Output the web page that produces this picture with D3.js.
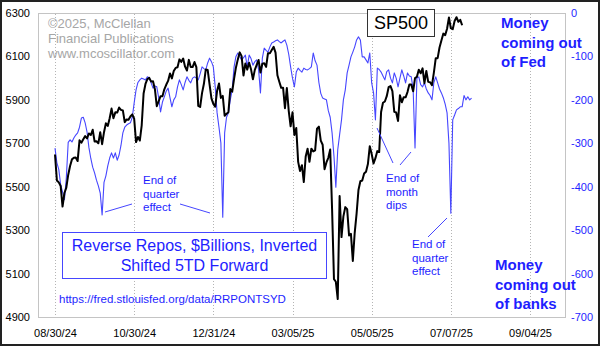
<!DOCTYPE html>
<html>
<head>
<meta charset="utf-8">
<script src="https://cdn.jsdelivr.net/npm/d3@7"></script>
<style>
  html, body { margin: 0; padding: 0; background: #fff; }
  svg { display: block; font-family: "Liberation Sans", Arial, sans-serif; }
</style>
</head>
<body>
<svg id="chart" width="600" height="346"></svg>
<script>
// Trading-day index 0 = 08/30/24. Ticks every 42 trading days.
const tickIndex = [0, 42, 84, 126, 168, 210, 252];
const tickLabels = ["08/30/24", "10/30/24", "12/31/24", "03/05/25", "05/05/25", "07/07/25", "09/04/25"];
const leftTicks = [4900, 5100, 5300, 5500, 5700, 5900, 6100, 6300];
const rightTicks = [-700, -600, -500, -400, -300, -200, -100, 0];

// S&P 500 daily closes, 08/30/24 .. 07/15/25
const sp500 = [
  5648.40, 5528.93, 5520.07, 5503.41, 5408.42, 5471.05, 5495.52, 5554.13, 5595.76, 5626.02,
  5633.09, 5634.58, 5618.26, 5713.64, 5702.55, 5718.57, 5732.93, 5722.26, 5745.37, 5738.17,
  5762.48, 5708.75, 5709.54, 5699.94, 5751.07, 5695.94, 5751.13, 5792.04, 5780.05, 5815.03,
  5859.85, 5815.26, 5842.47, 5841.47, 5864.67, 5853.98, 5851.20, 5797.42, 5809.86, 5808.12,
  5823.52, 5832.92, 5813.67, 5705.45, 5728.80, 5712.69, 5782.76, 5929.04, 5973.10, 5995.54,
  6001.35, 5983.99, 5985.38, 5949.17, 5870.62, 5893.62, 5916.98, 5917.11, 5948.71, 5969.34,
  5987.37, 6021.63, 5998.74, 6032.38, 6047.15, 6049.88, 6086.49, 6075.11, 6090.27, 6052.85,
  6034.91, 6084.19, 6051.25, 6051.09, 6074.08, 6050.61, 5872.16, 5867.08, 5930.85, 5974.07,
  6040.04, 6037.59, 5970.84, 5906.94, 5881.63, 5868.55, 5942.47, 5975.38, 5909.03, 5918.25,
  5827.04, 5836.22, 5842.91, 5949.91, 5937.34, 5996.66, 6049.24, 6086.37, 6118.71, 6101.24,
  6012.28, 6067.70, 6039.31, 6071.17, 6040.53, 5994.57, 6037.88, 6061.48, 6083.57, 6025.99,
  6066.44, 6068.50, 6051.97, 6115.07, 6114.63, 6129.58, 6144.15, 6117.52, 6013.13, 5983.25,
  5955.25, 5956.06, 5861.57, 5954.50, 5849.72, 5778.15, 5842.63, 5738.52, 5770.20, 5614.56,
  5572.07, 5599.30, 5521.52, 5638.94, 5675.12, 5614.66, 5675.29, 5662.89, 5667.56, 5767.57,
  5776.65, 5712.20, 5693.31, 5580.94, 5611.85, 5633.07, 5670.97, 5396.52, 5074.08, 5062.25,
  4982.77, 5456.90, 5268.05, 5363.36, 5405.97, 5396.63, 5275.70, 5282.70, 5158.20, 5287.76,
  5375.86, 5484.77, 5525.21, 5528.75, 5560.83, 5569.06, 5604.14, 5686.67, 5650.38, 5606.91,
  5631.28, 5663.94, 5659.91, 5844.19, 5886.55, 5892.58, 5916.93, 5958.38, 5963.60, 5940.46,
  5844.61, 5842.01, 5802.82, 5921.54, 5888.55, 5912.17, 5911.69, 5935.94, 5970.37, 5970.81,
  5939.30, 6000.36, 6005.88, 6038.81, 6022.24, 6045.26, 5976.97, 6033.11, 5982.72, 5980.87,
  5967.84, 6025.17, 6092.18, 6092.16, 6141.02, 6173.07, 6204.95, 6198.01, 6227.42, 6279.35,
  6229.98, 6225.52, 6263.26, 6280.46, 6259.75, 6268.56, 6243.76
];

// Reverse repos ($B), inverted and shifted 5 trading days forward
const reverseRepos = [
  -311, -345, -360, -395, -412, -430, -380, -298, -292, -297,
  -288, -281, -276, -263, -242, -240, -253, -274, -310, -335,
  -355, -368, -385, -398, -415, -465, -390, -375, -352, -334,
  -322, -334, -322, -339, -327, -305, -276, -263, -258, -255,
  -253, -240, -207, -177, -160, -154, -150, -152, -154, -147,
  -149, -161, -173, -168, -170, -195, -228, -205, -193, -180,
  -173, -195, -216, -200, -193, -170, -154, -165, -177, -160,
  -147, -155, -161, -150, -147, -150, -154, -140, -124, -128,
  -131, -115, -104, -112, -124, -170, -230, -263, -299, -470,
  -276, -240, -230, -200, -177, -124, -100, -92, -100, -108,
  -103, -97, -124, -97, -105, -120, -112, -108, -130, -184,
  -104, -81, -86, -90, -78, -69, -67, -64, -62, -66,
  -69, -65, -62, -74, -95, -124, -150, -170, -136, -127,
  -132, -136, -127, -130, -131, -128, -124, -92, -110, -120,
  -160, -185, -196, -198, -200, -225, -240, -276, -330, -401,
  -315, -280, -246, -200, -177, -138, -120, -101, -90, -78,
  -62, -55, -62, -101, -101, -108, -115, -92, -161, -184,
  -246, -127, -130, -136, -145, -154, -135, -131, -150, -161,
  -138, -150, -170, -150, -131, -145, -161, -138, -145, -147,
  -175, -311, -150, -147, -165, -170, -161, -175, -184, -190,
  -200, -160, -147, -161, -175, -184, -195, -210, -230, -300,
  -461, -246, -235, -223, -220, -216, -216, -190, -200, -193,
  -200, -196
];

const blueText = "#1e1eff";
const blueLine = "#4646ff";

const svg = d3.select("#chart");
const plot = { left: 38, right: 565, top: 13, bottom: 317 };

const x = d3.scaleLinear().domain([0, 252]).range([55, 530]);
const yL = d3.scaleLinear().domain([4900, 6300]).range([plot.bottom, plot.top]);
const yR = d3.scaleLinear().domain([-700, 0]).range([plot.bottom, plot.top]);

// outer frame
svg.append("rect").attr("x", 1).attr("y", 1).attr("width", 598).attr("height", 344)
  .attr("fill", "#fff").attr("stroke", "#222").attr("stroke-width", 2);

// plot frame
svg.append("rect").attr("x", plot.left + 0.5).attr("y", plot.top + 0.5)
  .attr("width", plot.right - plot.left).attr("height", plot.bottom - plot.top)
  .attr("fill", "none").attr("stroke", "#c4c4c4").attr("stroke-width", 1);

// vertical dotted gridlines
svg.append("g").selectAll("line").data(tickIndex).join("line")
  .attr("x1", d => Math.round(x(d)) + 0.5).attr("x2", d => Math.round(x(d)) + 0.5)
  .attr("y1", plot.top + 1).attr("y2", plot.bottom)
  .attr("stroke", "#b4b4b4").attr("stroke-dasharray", "1,2");

// axes
const axisL = svg.append("g").attr("transform", `translate(${plot.left},0)`)
  .call(d3.axisLeft(yL).tickValues(leftTicks).tickFormat(d3.format("d")).tickSize(0).tickPadding(8));
const axisR = svg.append("g").attr("transform", `translate(${plot.right},0)`)
  .call(d3.axisRight(yR).tickValues(rightTicks).tickFormat(d => d === 0 ? "0" : String(d)).tickSize(0).tickPadding(6));
const axisB = svg.append("g").attr("transform", `translate(0,${plot.bottom})`)
  .call(d3.axisBottom(x).tickValues(tickIndex).tickFormat((d, i) => tickLabels[i]).tickSize(0).tickPadding(12));
[axisL, axisR, axisB].forEach(g => {
  g.select(".domain").remove();
  g.selectAll("text").attr("font-size", 11).attr("font-family", "Liberation Sans, Arial, sans-serif");
});
axisL.selectAll("text").attr("fill", "#000");
axisB.selectAll("text").attr("fill", "#000");
axisR.selectAll("text").attr("fill", blueText);

// copyright block
const copy = ["\u00a92025, McClellan", "Financial Publications", "www.mcoscillator.com"];
svg.append("g").selectAll("text").data(copy).join("text")
  .attr("x", 48).attr("y", (d, i) => 28 + i * 15)
  .attr("font-size", 13).attr("fill", "#a6a6a6").text(d => d);

// series lines
const lineR = d3.line().x((d, i) => x(i)).y(d => yR(d));
const lineL = d3.line().x((d, i) => x(i)).y(d => yL(d));
svg.append("path").datum(reverseRepos).attr("d", lineR)
  .attr("fill", "none").attr("stroke", blueLine).attr("stroke-width", 1.1).attr("stroke-linejoin", "round");
svg.append("path").datum(sp500).attr("d", lineL)
  .attr("fill", "none").attr("stroke", "#000").attr("stroke-width", 2).attr("stroke-linejoin", "round");

// SP500 label box
svg.append("rect").attr("x", 367.5).attr("y", 9.5).attr("width", 67).attr("height", 27)
  .attr("fill", "#fff").attr("stroke", "#333").attr("stroke-width", 1);
svg.append("text").attr("x", 401).attr("y", 29).attr("text-anchor", "middle")
  .attr("font-size", 18).attr("fill", "#000").text("SP500");

// right-side captions
const topCap = ["Money", "coming out", "of Fed"];
svg.append("g").selectAll("text").data(topCap).join("text")
  .attr("x", 501).attr("y", (d, i) => 28 + i * 19.5)
  .attr("font-size", 15).attr("font-weight", "bold").attr("fill", blueText).text(d => d);
const botCap = ["Money", "coming out", "of banks"];
svg.append("g").selectAll("text").data(botCap).join("text")
  .attr("x", 495).attr("y", (d, i) => 270 + i * 19.5)
  .attr("font-size", 15).attr("font-weight", "bold").attr("fill", blueText).text(d => d);

// annotations
function note(lines, x0, y0) {
  svg.append("g").selectAll("text").data(lines).join("text")
    .attr("x", x0).attr("y", (d, i) => y0 + i * 13.5)
    .attr("font-size", 11.5).attr("fill", blueText).text(d => d);
}
function pointer(x1, y1, x2, y2) {
  svg.append("line").attr("x1", x1).attr("y1", y1).attr("x2", x2).attr("y2", y2)
    .attr("stroke", blueLine).attr("stroke-width", 1);
}
note(["End of", "quarter", "effect"], 143, 184);
pointer(105, 212, 132, 204);
pointer(180, 204, 210, 213);
note(["End of", "month", "dips"], 386, 182);
pointer(377, 128, 393, 163);
pointer(400, 165, 411, 152);
note(["End of", "quarter", "effect"], 412, 248);
pointer(428, 237, 447, 218);

// legend box
svg.append("rect").attr("x", 62.5).attr("y", 232.5).attr("width", 264).attr("height", 46)
  .attr("fill", "#fff").attr("stroke", blueLine).attr("stroke-width", 1);
svg.append("g").selectAll("text")
  .data(["Reverse Repos, $Billions, Inverted", "Shifted 5TD Forward"]).join("text")
  .attr("x", 194.5).attr("y", (d, i) => 251 + i * 20).attr("text-anchor", "middle")
  .attr("font-size", 16).attr("fill", blueText).text(d => d);

// source link text
svg.append("text").attr("x", 59).attr("y", 303).attr("font-size", 11.5)
  .attr("fill", blueText).text("https://fred.stlouisfed.org/data/RRPONTSYD");
</script>
</body>
</html>
